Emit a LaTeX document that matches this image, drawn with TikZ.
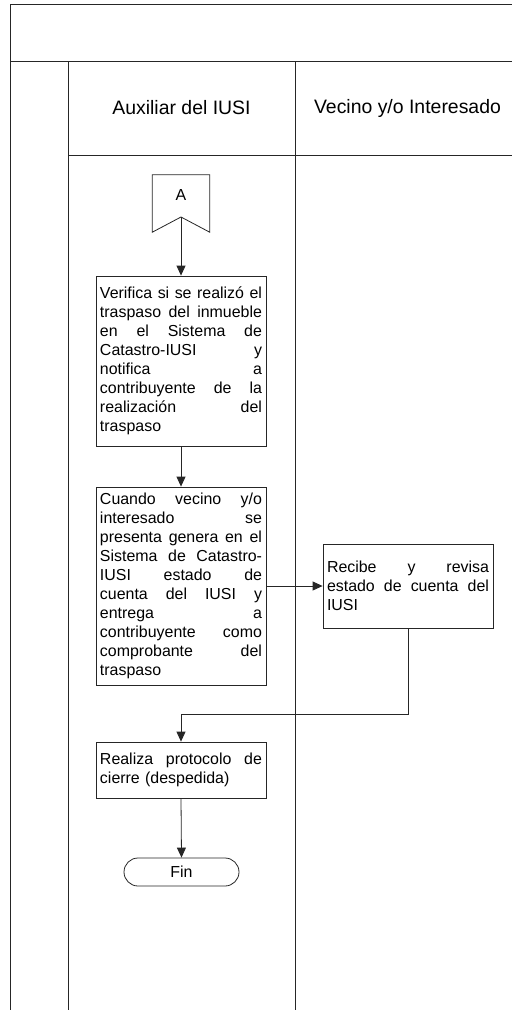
\documentclass[tikz,border=0pt]{standalone}
\usepackage{fontspec}
\setmainfont{Liberation Sans}
\usetikzlibrary{arrows.meta}
\newcommand\jl[1]{\leavevmode\hbox to 162bp{\spaceskip=0.28em plus 1fil\relax\xspaceskip=0.28em plus 1fil\relax #1}}
\begin{document}
\begin{tikzpicture}[x=1bp,y=-1bp,
  ln/.style={line width=0.8bp, draw=black!85},
  proc/.style={ln, rectangle, minimum width=170bp, text width=162bp, inner xsep=4bp, inner ysep=0bp, align=left, font=\fontsize{16}{19}\selectfont},
  arr/.style={ln, -{Triangle[length=10bp,width=9bp]}},
  lanetitle/.style={font=\fontsize{19.5}{23}\selectfont, inner sep=0pt},
  term/.style={ln, rectangle, rounded corners=14bp, minimum width=115bp, minimum height=28bp, inner sep=0pt, font=\fontsize{16}{19}\selectfont}]
\useasboundingbox (0,0) rectangle (512,1010);
\clip (0,0) rectangle (512,1010);
% frame
\draw[ln] (10,1020) -- (10,4) -- (530,4);
\draw[ln] (10,61) -- (530,61);
\draw[ln] (68,61) -- (68,1020);
\draw[ln] (295,61) -- (295,1020);
\draw[ln] (68,155) -- (530,155);
\node[lanetitle] (lane1) at (181.5,108) {Auxiliar del IUSI};
\node[lanetitle] (lane2) at (407.5,108) {Vecino y/o Interesado};
% off-page connector A
\node[inner sep=0pt, minimum width=57bp, minimum height=57bp] (A) at (181,203.5) {};
\node[inner sep=0pt, font=\fontsize{16}{19}\selectfont] (Alabel) at (181,195) {A};
\coordinate (Atip) at (181,217);
\draw[ln] (A.north west) -- (A.north east) -- (A.south east) -- (Atip) -- (A.south west) -- cycle;
% process boxes
\node[proc, minimum height=170bp] (b1) at (181,361) {\jl{Verifica si se realizó el}\\ \jl{traspaso del inmueble}\\ \jl{en el Sistema de}\\ \jl{Catastro-IUSI y}\\ \jl{notifica a}\\ \jl{contribuyente de la}\\ \jl{realización del}\\ traspaso};
\node[proc, minimum height=198bp] (b2) at (181,586) {\jl{Cuando vecino y/o}\\ \jl{interesado se}\\ \jl{presenta genera en el}\\ \jl{Sistema de Catastro-}\\ \jl{IUSI estado de}\\ \jl{cuenta del IUSI y}\\ \jl{entrega a}\\ \jl{contribuyente como}\\ \jl{comprobante del}\\ traspaso};
\node[proc, minimum height=84bp] (b3) at (408,586) {\jl{Recibe y revisa}\\ \jl{estado de cuenta del}\\ IUSI};
\node[proc, minimum height=56bp] (b4) at (181,770) {\jl{Realiza protocolo de}\\ cierre (despedida)};
\node[term] (fin) at (181.5,872) {Fin};
% connectors
\draw[arr] (Atip) -- (b1.north);
\draw[arr] (b1.south) -- (b2.north);
\draw[arr] (b2.east) -- (b3.west);
\coordinate (bend1) at (408,714);
\coordinate (bend2) at (181,714);
\draw[arr] (b3.south) -- (bend1) -- (bend2) -- (b4.north);
\draw[arr] (b4.south) -- (fin.north);
\end{tikzpicture}
\end{document}
